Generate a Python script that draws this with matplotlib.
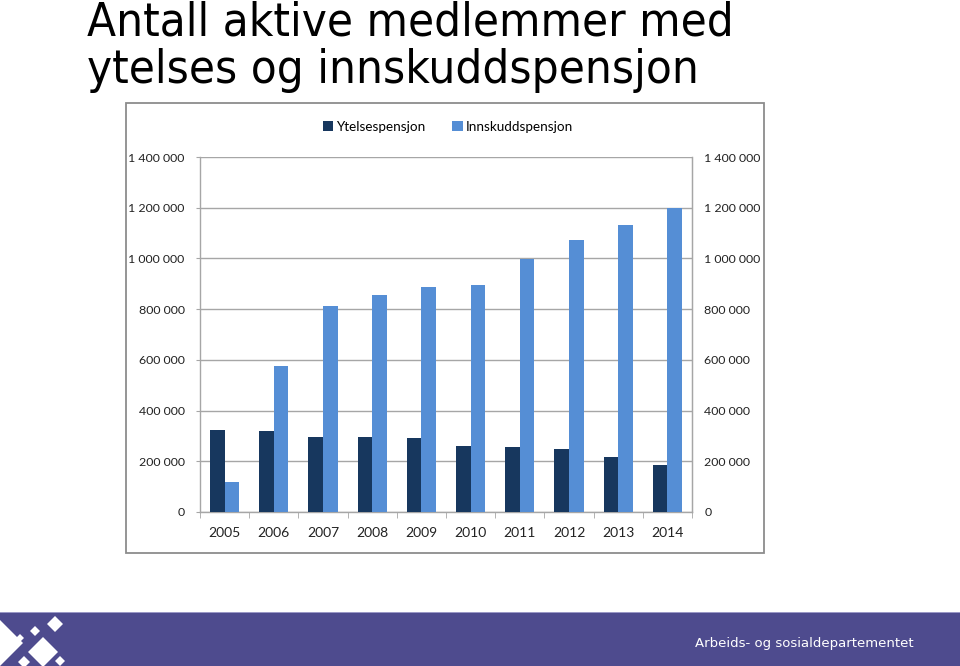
import matplotlib
matplotlib.use("Agg")
import matplotlib.pyplot as plt
from matplotlib.patches import Rectangle, Polygon
from matplotlib.ticker import FuncFormatter, FixedLocator
from matplotlib import font_manager
import numpy as np

years = ["2005", "2006", "2007", "2008", "2009", "2010", "2011", "2012", "2013", "2014"]
ytelse = [323000, 319000, 296000, 295000, 292000, 261000, 257000, 248000, 217000, 185000]
innskudd = [118000, 576000, 812000, 856000, 887000, 895000, 998000, 1073000, 1132000, 1199000]
series_names = ["Ytelsespensjon", "Innskuddspensjon"]
yticks = [0, 200000, 400000, 600000, 800000, 1000000, 1200000, 1400000]
title_lines = ["Antall aktive medlemmer med", "ytelses og innskuddspensjon"]
footer_text = "Arbeids- og sosialdepartementet"

W, H = 960, 666
fig = plt.figure(figsize=(W / 100, H / 100), dpi=100)
fig.patch.set_facecolor("white")

def fx(px):
    return px / W

def fy(py):
    return 1 - py / H

chart_font = "Lato"
dark = "#17375E"
light = "#558ED5"
gridc = "#A6A6A6"

title_kw = dict(fontfamily="DejaVu Sans", fontsize=30.7)
try:
    fp = font_manager.FontProperties(family="DejaVu Sans", stretch="condensed")
    path = font_manager.findfont(fp, fallback_to_default=False)
    if "ondensed" in path:
        title_kw = dict(fontfamily="DejaVu Sans", fontstretch="condensed", fontsize=34)
except Exception:
    pass

# chart frame
fig.patches.append(Rectangle((fx(126), fy(553)), fx(764) - fx(126), fy(103) - fy(553),
                             transform=fig.transFigure, fill=False, edgecolor="#8C8C8C",
                             linewidth=1.3, zorder=0))

ax = fig.add_axes([fx(200), fy(512), fx(692) - fx(200), fy(157) - fy(512)])
x = np.arange(len(years))
bw = 0.295
b1 = ax.bar(x - bw / 2, ytelse, width=bw, color=dark, zorder=3, label=series_names[0])
b2 = ax.bar(x + bw / 2, innskudd, width=bw, color=light, zorder=3, label=series_names[1])
ax.set_xlim(-0.5, len(years) - 0.5)
ax.set_ylim(0, 1400000)

fmt = FuncFormatter(lambda v, p: f"{int(v):,}".replace(",", " "))
ax.yaxis.set_major_locator(FixedLocator(yticks))
ax.yaxis.set_major_formatter(fmt)
ax.set_xticks(x)
ax.set_xticklabels(years, fontfamily=chart_font, fontsize=10)
ax.set_xticks(np.arange(-0.5, len(years), 1.0), minor=True)
ax.tick_params(axis="x", which="major", length=0, pad=11, colors="#222222")
ax.tick_params(axis="x", which="minor", length=4, color=gridc, direction="out")
ax.tick_params(axis="y", length=3, color=gridc, pad=8, labelsize=8.9, colors="#222222")
for lbl in ax.get_yticklabels():
    lbl.set_fontfamily(chart_font)
ax.grid(axis="y", color=gridc, linewidth=1, zorder=0)
ax.set_axisbelow(True)
ax.spines["top"].set_visible(False)
for s in ["left", "right", "bottom"]:
    ax.spines[s].set_color(gridc)
    ax.spines[s].set_linewidth(1)

ax2 = ax.twinx()
ax2.set_ylim(0, 1400000)
ax2.yaxis.set_major_locator(FixedLocator(yticks))
ax2.yaxis.set_major_formatter(fmt)
ax2.tick_params(axis="y", length=0, pad=9, labelsize=8.9, colors="#222222")
for lbl in ax2.get_yticklabels():
    lbl.set_fontfamily(chart_font)
for s in ["top", "left", "bottom"]:
    ax2.spines[s].set_visible(False)
ax2.spines["right"].set_color(gridc)

leg = fig.legend(handles=[b1, b2], loc="center", bbox_to_anchor=(fx(448), fy(127)),
                 ncol=2, frameon=False, handlelength=0.75, handleheight=0.75,
                 handletextpad=0.25, columnspacing=2.0,
                 prop={"family": chart_font, "size": 9.7})

# title
fig.text(fx(87), fy(35.5), title_lines[0], va="baseline", ha="left", color="black", **title_kw)
fig.text(fx(87), fy(83), title_lines[1], va="baseline", ha="left", color="black", **title_kw)

# footer band
band = "#4E4B8E"
fig.patches.append(Rectangle((0, 0), 1, fy(612), transform=fig.transFigure,
                             facecolor=band, edgecolor="none", zorder=1))
fig.patches.append(Rectangle((0, fy(613)), 1, fy(612) - fy(613), transform=fig.transFigure,
                             facecolor="#9A98C6", edgecolor="none", zorder=1))
fig.text(fx(695), fy(647), footer_text, fontsize=9.55, fontfamily="DejaVu Sans",
         color="white", va="baseline", ha="left")

# logo (decorative white diamonds)
def diamond(cx, cy, r):
    pts = [(fx(cx - r), fy(cy)), (fx(cx), fy(cy - r)), (fx(cx + r), fy(cy)), (fx(cx), fy(cy + r))]
    fig.patches.append(Polygon(pts, closed=True, transform=fig.transFigure,
                               facecolor="white", edgecolor="none", zorder=2))

fig.patches.append(Polygon([(fx(0), fy(620)), (fx(23), fy(643)), (fx(0), fy(666))],
                           closed=True, transform=fig.transFigure,
                           facecolor="white", edgecolor="none", zorder=2))
diamond(55, 624, 8)
diamond(35, 631, 5)
diamond(20, 638, 4)
diamond(43, 652, 15)
diamond(60, 661, 5)
diamond(24, 662, 6)

fig.savefig("out.png", dpi=100)
